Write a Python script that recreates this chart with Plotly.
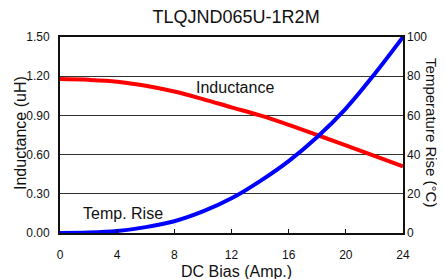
import plotly.graph_objects as go

bias = [0, 2, 4, 6, 8, 10, 12, 14, 16, 18, 20, 22, 24]
inductance = [1.178, 1.172, 1.158, 1.127, 1.083, 1.025, 0.962, 0.900, 0.828, 0.750, 0.670, 0.590, 0.510]
temp_rise = [0, 0.2, 1.0, 3.0, 6.0, 11.0, 17.7, 26.5, 36.7, 49.0, 63.5, 81.0, 100.0]

x_ticks = [0, 4, 8, 12, 16, 20, 24]
l_ticks = [0.0, 0.3, 0.6, 0.9, 1.2, 1.5]
r_ticks = [0, 20, 40, 60, 80, 100]

FONT = "Liberation Sans, Arial, sans-serif"
INK = "#111"

fig = go.Figure()
fig.add_trace(go.Scatter(x=bias, y=inductance, mode="lines",
                         line=dict(color="#ff0000", width=4, shape="spline", smoothing=1.0),
                         yaxis="y", showlegend=False, hoverinfo="skip"))
fig.add_trace(go.Scatter(x=bias, y=temp_rise, mode="lines",
                         line=dict(color="#0000ff", width=4, shape="spline", smoothing=1.0),
                         yaxis="y2", showlegend=False, hoverinfo="skip"))

fig.update_layout(
    width=437, height=271,
    margin=dict(l=52, r=42, t=29, b=46),
    paper_bgcolor="white", plot_bgcolor="white",
    font=dict(family=FONT, color=INK, size=12),
    title=dict(text="TLQJND065U-1R2M", x=0.522, xanchor="center", y=0.967, yanchor="middle",
               font=dict(size=18, family=FONT, color=INK)),
    xaxis=dict(range=[0, 24], tickvals=x_ticks, ticks="inside", ticklen=4, tickcolor=INK,
               showgrid=False, zeroline=False, showline=True, linecolor=INK, linewidth=2, mirror=True,
               ticklabelstandoff=10, tickfont=dict(size=12)),
    yaxis=dict(range=[0, 1.5], tickvals=l_ticks, tickformat=".2f", ticks="", showgrid=True,
               gridcolor="#333", gridwidth=1, zeroline=False, showline=True, linecolor=INK, linewidth=2,
               mirror=True, ticklabelstandoff=6, tickfont=dict(size=12)),
    yaxis2=dict(range=[0, 100], tickvals=r_ticks, overlaying="y", side="right", showgrid=False,
                zeroline=False, showline=False, ticks="", ticklabelstandoff=3, tickfont=dict(size=12)),
    annotations=[
        dict(text="DC Bias (Amp.)", xref="paper", yref="paper", x=0.5136, y=-0.194,
             xanchor="center", yanchor="middle",
             showarrow=False, font=dict(size=16, family=FONT, color=INK)),
        dict(text="Inductance (uH)", xref="paper", yref="paper", x=-0.1167, y=0.51, textangle=-90,
             xanchor="center", yanchor="middle",
             showarrow=False, font=dict(size=16, family=FONT, color=INK)),
        dict(text="Temperature Rise (°C)", xref="paper", yref="paper", x=1.0846, y=0.515, textangle=90,
             xanchor="center", yanchor="middle",
             showarrow=False, font=dict(size=15, family=FONT, color=INK)),
        dict(text="Inductance", x=12.25, y=1.11, xref="x", yref="y", showarrow=False,
             xanchor="center", yanchor="middle",
             font=dict(size=16, family=FONT, color=INK)),
        dict(text="Temp. Rise", x=4.4, y=0.15, xref="x", yref="y", showarrow=False,
             xanchor="center", yanchor="middle",
             font=dict(size=16, family=FONT, color=INK)),
    ],
)

fig.write_html("out.html")
